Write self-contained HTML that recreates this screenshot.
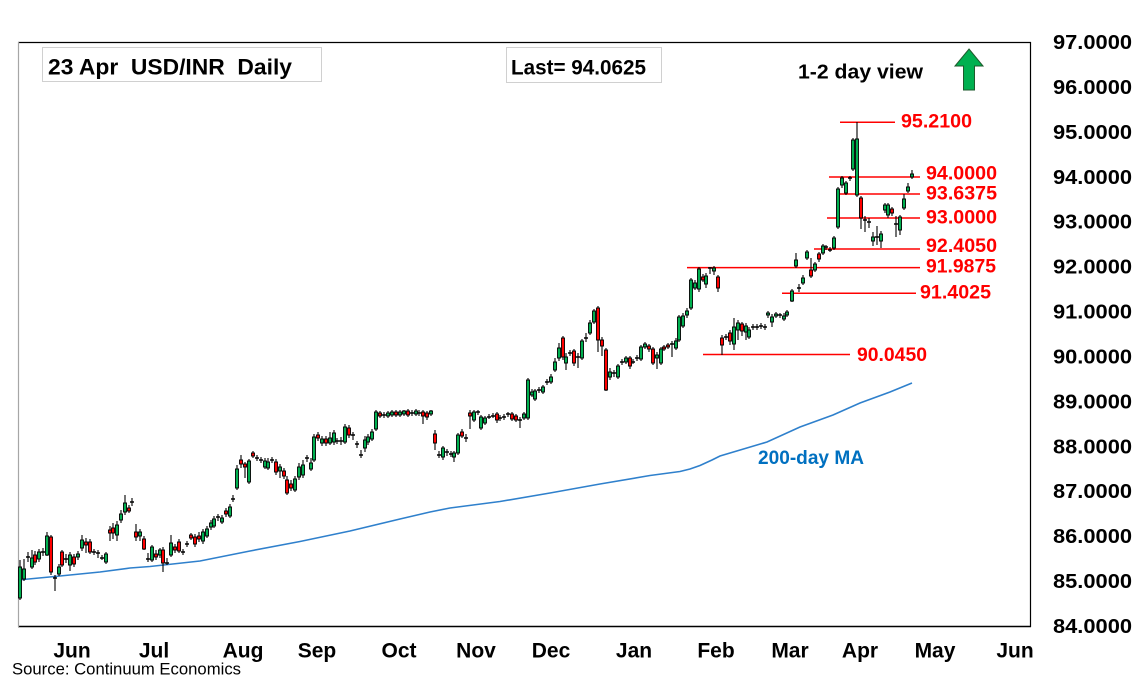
<!DOCTYPE html>
<html>
<head>
<meta charset="utf-8">
<style>
html,body{margin:0;padding:0;background:#fff;}
body{width:1134px;height:680px;overflow:hidden;}
svg{display:block;}
text{font-family:"Liberation Sans",Arial,sans-serif;}
</style>
</head>
<body>
<svg width="1134" height="680" viewBox="0 0 1134 680" xmlns="http://www.w3.org/2000/svg">
<rect x="0" y="0" width="1134" height="680" fill="#fff"/>

<!-- frame -->
<path d="M18 42.5H1031" stroke="#000" stroke-width="1.2" fill="none"/>
<path d="M1030.5 42V627" stroke="#000" stroke-width="1.2" fill="none"/>
<path d="M18 626.5H1031" stroke="#000" stroke-width="1.4" fill="none"/>
<path d="M18.5 42V627" stroke="#a6a6a6" stroke-width="1.2" fill="none"/>

<!-- title boxes -->
<rect x="42.5" y="47.5" width="279" height="34" fill="#fff" stroke="#d0d0d0" stroke-width="1"/>
<text x="48" y="74.5" font-size="22" font-weight="bold" fill="#000" textLength="244" lengthAdjust="spacingAndGlyphs">23 Apr&#160; USD/INR&#160; Daily</text>
<rect x="506.5" y="47.5" width="155" height="35" fill="#fff" stroke="#d0d0d0" stroke-width="1"/>
<text x="511" y="74.5" font-size="21" font-weight="bold" fill="#000" textLength="135" lengthAdjust="spacingAndGlyphs">Last= 94.0625</text>
<text x="798" y="78.5" font-size="20" font-weight="bold" fill="#000" textLength="125" lengthAdjust="spacingAndGlyphs">1-2 day view</text>
<polygon points="969,49 983,66 974.5,66 974.5,90 963.5,90 963.5,66 955,66" fill="#00B050" stroke="#1e5a2c" stroke-width="1"/>

<!-- 200-day MA -->
<polyline fill="none" stroke="#2F80CC" stroke-width="1.6" points="18,580 60,576 100,572 130,568 150,566.5 200,561 250,551 300,541.5 350,531 400,519 430,512 450,508 500,501.5 550,493 600,484 650,475.5 680,471.5 690,469 700,465.5 712,460 720,456 767,442 800,427 833,415 860,403 890,392 912,383"/>
<text x="758" y="464" font-size="19" font-weight="bold" fill="#0070C0" textLength="106" lengthAdjust="spacingAndGlyphs">200-day MA</text>

<!-- level lines -->
<g stroke="#FF0000" stroke-width="1.5" fill="none">
<path d="M840 122.3H895"/>
<path d="M829 177H920"/>
<path d="M840 194H920"/>
<path d="M827 218H920"/>
<path d="M814 249H920"/>
<path d="M687 267.6H920"/>
<path d="M782 293.3H916"/>
<path d="M703 354.5H850"/>
</g>
<g font-size="19" font-weight="bold" fill="#FF0000">
<text x="901" y="127.7" textLength="71" lengthAdjust="spacingAndGlyphs">95.2100</text>
<text x="926" y="179.7" textLength="71" lengthAdjust="spacingAndGlyphs">94.0000</text>
<text x="926" y="199.7" textLength="71" lengthAdjust="spacingAndGlyphs">93.6375</text>
<text x="926" y="223.7" textLength="71" lengthAdjust="spacingAndGlyphs">93.0000</text>
<text x="926" y="252" textLength="71" lengthAdjust="spacingAndGlyphs">92.4050</text>
<text x="926" y="272.7" textLength="70" lengthAdjust="spacingAndGlyphs">91.9875</text>
<text x="920" y="298.7" textLength="71" lengthAdjust="spacingAndGlyphs">91.4025</text>
<text x="857" y="361" textLength="70" lengthAdjust="spacingAndGlyphs">90.0450</text>
</g>

<!-- wicks -->
<path fill="none" stroke="#000" stroke-width="1.1" d="M20 560V600 M24 559V581 M28 552V562 M32 550V569 M35 551V565 M39 549V562 M43 548V556 M47 532V556 M51 535V575 M55 575V591 M59 564V576 M62 550V567 M66 554V563 M70 552V571 M74 554V567 M78 551V560 M82 535V551 M86 538V553 M90 539V554 M94 549V555 M98 550V558 M102 555V560 M106 552V564 M110 526V541 M113 523V539 M117 521V541 M121 510V523 M125 495V515 M129 505V513 M132 498V506 M136 524V541 M140 529V541 M144 536V550 M148 553V562 M152 545V562 M156 550V560 M160 548V558 M163 547V572 M167 558V565 M171 535V557 M175 544V553 M179 539V553 M183 549V555 M187 541V547 M191 533V540 M195 534V547 M199 532V542 M203 529V544 M207 526V538 M211 520V530 M214 516V528 M218 514V521 M222 515V524 M226 508V517 M230 504V518 M233 495V502 M237 465V490 M241 455V468 M245 462V478 M249 459V484 M253 451V458 M257 455V461 M261 457V463 M265 458V469 M268 458V470 M272 457V463 M276 459V475 M280 464V478 M284 468V479 M287 476V495 M291 480V491 M295 476V492 M299 463V480 M303 460V478 M307 455V462 M311 458V471 M314 434V462 M318 432V441 M322 436V446 M326 436V446 M330 432V445 M334 430V445 M337 438V444 M341 437V445 M345 424V444 M349 425V438 M353 432V440 M357 441V448 M361 450V458 M365 436V452 M368 434V445 M372 429V441 M376 410V431 M380 411V418 M384 412V418 M388 411V418 M392 410V417 M396 410V417 M400 410V417 M404 410V416 M408 409V417 M412 410V416 M416 409V416 M419 410V416 M423 410V424 M427 411V420 M431 410V416 M435 430V450 M439 451V458 M443 446V460 M447 449V456 M451 451V457 M454 451V462 M458 433V455 M462 429V438 M466 434V442 M470 410V429 M474 410V422 M478 410V415 M481 415V430 M485 416V425 M489 414V419 M493 413V418 M497 412V423 M500 415V421 M504 414V420 M508 412V417 M512 412V421 M516 414V422 M520 417V428 M524 412V420 M528 378V420 M532 389V397 M535 389V401 M539 387V393 M543 385V394 M547 379V385 M551 374V384 M555 358V372 M559 343V361 M563 336V360 M566 353V370 M570 350V356 M574 349V366 M578 353V368 M582 339V360 M586 333V342 M590 320V335 M594 309V324 M598 306V352 M602 337V356 M606 348V391 M610 368V380 M614 370V377 M618 364V379 M622 359V365 M626 356V364 M630 356V369 M633 359V364 M637 355V361 M641 345V361 M645 342V349 M649 344V352 M653 347V365 M657 352V369 M661 347V365 M664 345V351 M668 343V349 M672 341V357 M676 338V350 M679 315V342 M683 313V328 M687 308V318 M691 278V310 M695 280V290 M699 267V292 M703 274V282 M706 273V288 M710 267V274 M714 266V275 M718 275V292 M722 335V355 M726 334V340 M730 330V345 M734 318V350 M738 320V340 M742 322V336 M746 323V340 M749 327V339 M753 324V330 M757 324V330 M761 323V329 M765 324V330 M768 311V318 M772 314V327 M776 312V318 M780 313V318 M784 313V321 M787 310V317 M792 289V302 M796 253V268 M799 284V292 M803 275V285 M807 250V260 M811 258V278 M815 262V272 M819 252V262 M823 244V255 M826 245V250 M830 247V252 M834 236V250 M838 187V229 M842 176V188 M846 181V195 M850 176V181 M853 138V171 M857 122V197 M861 196V229 M865 216V232 M869 218V228 M873 232V246 M877 226V245 M881 231V248 M885 203V213 M888 203V218 M892 207V216 M896 216V237 M900 215V235 M904 194V210 M908 183V193 M912 170V179"/>

<!-- doji -->
<path fill="none" stroke="#000" stroke-width="1.6" d="M26 557h4 M41 552h4 M53 578h4 M64 559h4 M92 552h4 M96 553h4 M100 558h4 M130 502h4 M146 559h4 M165 563h4 M181 552h4 M185 544h4 M216 517h4 M231 499h4 M255 458h4 M259 460h4 M270 460h4 M305 458h4 M335 441h4 M339 441h4 M351 435h4 M355 444h4 M359 455h4 M382 415h4 M410 413h4 M417 413h4 M437 455h4 M445 452h4 M449 454h4 M464 438h4 M476 412h4 M487 417h4 M491 416h4 M498 418h4 M502 417h4 M506 414h4 M518 420h4 M537 390h4 M545 382h4 M568 353h4 M576 357h4 M584 338h4 M612 373h4 M620 362h4 M631 362h4 M635 358h4 M670 344h4 M708 268h4 M724 337h4 M751 327h4 M755 327h4 M759 326h4 M763 327h4 M778 315h4 M797 288h4 M824 247h4 M828 250h4 M848 178h4 M863 220h4 M867 222h4 M875 237h4 M894 224h4"/>

<!-- green bodies -->
<path fill="#00B050" stroke="#000" stroke-width="0.9" d="M18.5 567h3V598h-3Z M22.5 569h3V579h-3Z M30.5 558h3V567h-3Z M37.5 552h3V559h-3Z M45.5 536h3V555h-3Z M57.5 567h3V574h-3Z M68.5 555h3V565h-3Z M76.5 554h3V557h-3Z M80.5 540h3V548h-3Z M104.5 554h3V562h-3Z M115.5 525h3V535h-3Z M119.5 514h3V520h-3Z M123.5 503h3V512h-3Z M138.5 532h3V536h-3Z M150.5 547h3V560h-3Z M158.5 550h3V555h-3Z M169.5 543h3V555h-3Z M201.5 532h3V541h-3Z M205.5 529h3V536h-3Z M209.5 523h3V527h-3Z M212.5 519h3V526h-3Z M220.5 518h3V522h-3Z M228.5 507h3V516h-3Z M235.5 469h3V488h-3Z M247.5 461h3V482h-3Z M263.5 461h3V467h-3Z M266.5 462h3V468h-3Z M278.5 467h3V471h-3Z M293.5 479h3V490h-3Z M297.5 467h3V477h-3Z M301.5 465h3V475h-3Z M309.5 463h3V469h-3Z M312.5 437h3V460h-3Z M320.5 439h3V443h-3Z M328.5 438h3V443h-3Z M332.5 433h3V442h-3Z M343.5 427h3V442h-3Z M363.5 440h3V448h-3Z M366.5 437h3V442h-3Z M370.5 432h3V439h-3Z M374.5 412h3V429h-3Z M386.5 413h3V416h-3Z M390.5 412h3V415h-3Z M398.5 412h3V415h-3Z M402.5 411h3V414h-3Z M414.5 411h3V414h-3Z M429.5 411h3V414h-3Z M441.5 448h3V457h-3Z M452.5 453h3V457h-3Z M456.5 435h3V453h-3Z M472.5 412h3V420h-3Z M479.5 417h3V428h-3Z M483.5 418h3V423h-3Z M522.5 414h3V418h-3Z M526.5 380h3V418h-3Z M530.5 392h3V395h-3Z M533.5 391h3V399h-3Z M541.5 387h3V392h-3Z M549.5 377h3V382h-3Z M553.5 362h3V370h-3Z M557.5 348h3V358h-3Z M564.5 357h3V363h-3Z M580.5 341h3V358h-3Z M588.5 323h3V333h-3Z M592.5 311h3V322h-3Z M608.5 372h3V377h-3Z M616.5 366h3V377h-3Z M624.5 358h3V362h-3Z M639.5 347h3V359h-3Z M643.5 344h3V347h-3Z M655.5 355h3V358h-3Z M659.5 349h3V363h-3Z M674.5 341h3V348h-3Z M677.5 317h3V340h-3Z M681.5 316h3V326h-3Z M685.5 311h3V315h-3Z M689.5 280h3V308h-3Z M693.5 283h3V288h-3Z M697.5 269h3V289h-3Z M704.5 276h3V284h-3Z M712.5 268h3V271h-3Z M732.5 327h3V344h-3Z M736.5 323h3V330h-3Z M744.5 326h3V332h-3Z M747.5 330h3V337h-3Z M766.5 313h3V315h-3Z M770.5 317h3V322h-3Z M774.5 314h3V316h-3Z M782.5 316h3V319h-3Z M785.5 312h3V315h-3Z M790.5 291h3V301h-3Z M794.5 260h3V266h-3Z M801.5 278h3V283h-3Z M805.5 252h3V258h-3Z M813.5 264h3V270h-3Z M821.5 246h3V253h-3Z M832.5 238h3V248h-3Z M836.5 189h3V227h-3Z M840.5 178h3V185h-3Z M844.5 183h3V193h-3Z M851.5 140h3V169h-3Z M855.5 139h3V195h-3Z M871.5 237h3V241h-3Z M879.5 234h3V241h-3Z M883.5 205h3V210h-3Z M886.5 205h3V215h-3Z M898.5 217h3V230h-3Z M902.5 199h3V208h-3Z M906.5 187h3V191h-3Z M910.5 174h3V177h-3Z"/>

<!-- red bodies -->
<path fill="#FF0000" stroke="#000" stroke-width="0.9" d="M33.5 555h3V562h-3Z M49.5 537h3V572h-3Z M60.5 552h3V565h-3Z M72.5 557h3V564h-3Z M84.5 542h3V545h-3Z M88.5 542h3V552h-3Z M108.5 530h3V533h-3Z M111.5 528h3V533h-3Z M127.5 508h3V511h-3Z M134.5 532h3V537h-3Z M142.5 539h3V549h-3Z M154.5 554h3V557h-3Z M161.5 550h3V563h-3Z M173.5 547h3V550h-3Z M177.5 542h3V551h-3Z M189.5 535h3V538h-3Z M193.5 537h3V544h-3Z M197.5 536h3V539h-3Z M224.5 511h3V514h-3Z M239.5 460h3V464h-3Z M243.5 464h3V467h-3Z M251.5 453h3V456h-3Z M274.5 462h3V472h-3Z M282.5 471h3V476h-3Z M285.5 480h3V493h-3Z M289.5 484h3V488h-3Z M316.5 435h3V438h-3Z M324.5 439h3V443h-3Z M347.5 428h3V435h-3Z M378.5 413h3V416h-3Z M394.5 412h3V415h-3Z M406.5 411h3V415h-3Z M421.5 412h3V416h-3Z M425.5 413h3V417h-3Z M433.5 434h3V443h-3Z M460.5 432h3V436h-3Z M468.5 413h3V416h-3Z M495.5 414h3V420h-3Z M510.5 414h3V419h-3Z M514.5 416h3V420h-3Z M561.5 338h3V357h-3Z M572.5 351h3V363h-3Z M596.5 308h3V340h-3Z M600.5 340h3V346h-3Z M604.5 350h3V390h-3Z M628.5 358h3V366h-3Z M647.5 346h3V349h-3Z M651.5 349h3V363h-3Z M662.5 347h3V349h-3Z M666.5 345h3V347h-3Z M701.5 277h3V280h-3Z M716.5 277h3V288h-3Z M720.5 338h3V345h-3Z M728.5 333h3V341h-3Z M740.5 324h3V331h-3Z M809.5 270h3V276h-3Z M817.5 254h3V259h-3Z M859.5 198h3V218h-3Z M890.5 209h3V213h-3Z"/>

<!-- y axis labels -->
<g font-size="20" font-weight="bold" fill="#000">
<text x="1053" y="49" textLength="79" lengthAdjust="spacingAndGlyphs">97.0000</text>
<text x="1053" y="93.9" textLength="79" lengthAdjust="spacingAndGlyphs">96.0000</text>
<text x="1053" y="138.8" textLength="79" lengthAdjust="spacingAndGlyphs">95.0000</text>
<text x="1053" y="183.8" textLength="79" lengthAdjust="spacingAndGlyphs">94.0000</text>
<text x="1053" y="228.7" textLength="79" lengthAdjust="spacingAndGlyphs">93.0000</text>
<text x="1053" y="273.6" textLength="79" lengthAdjust="spacingAndGlyphs">92.0000</text>
<text x="1053" y="318.5" textLength="79" lengthAdjust="spacingAndGlyphs">91.0000</text>
<text x="1053" y="363.5" textLength="79" lengthAdjust="spacingAndGlyphs">90.0000</text>
<text x="1053" y="408.4" textLength="79" lengthAdjust="spacingAndGlyphs">89.0000</text>
<text x="1053" y="453.3" textLength="79" lengthAdjust="spacingAndGlyphs">88.0000</text>
<text x="1053" y="498.2" textLength="79" lengthAdjust="spacingAndGlyphs">87.0000</text>
<text x="1053" y="543.2" textLength="79" lengthAdjust="spacingAndGlyphs">86.0000</text>
<text x="1053" y="588.1" textLength="79" lengthAdjust="spacingAndGlyphs">85.0000</text>
<text x="1053" y="633" textLength="79" lengthAdjust="spacingAndGlyphs">84.0000</text>
</g>

<!-- x axis labels -->
<g font-size="21" font-weight="bold" fill="#000" text-anchor="middle">
<text x="72" y="657.5">Jun</text>
<text x="154" y="657.5">Jul</text>
<text x="243" y="657.5">Aug</text>
<text x="317" y="657.5">Sep</text>
<text x="399" y="657.5">Oct</text>
<text x="476" y="657.5">Nov</text>
<text x="551" y="657.5">Dec</text>
<text x="634" y="657.5">Jan</text>
<text x="716" y="657.5">Feb</text>
<text x="790" y="657.5">Mar</text>
<text x="860" y="657.5">Apr</text>
<text x="935" y="657.5">May</text>
<text x="1015" y="657.5">Jun</text>
</g>

<text x="12" y="674.5" font-size="17" fill="#000" textLength="229" lengthAdjust="spacingAndGlyphs">Source: Continuum Economics</text>
</svg>
</body>
</html>
